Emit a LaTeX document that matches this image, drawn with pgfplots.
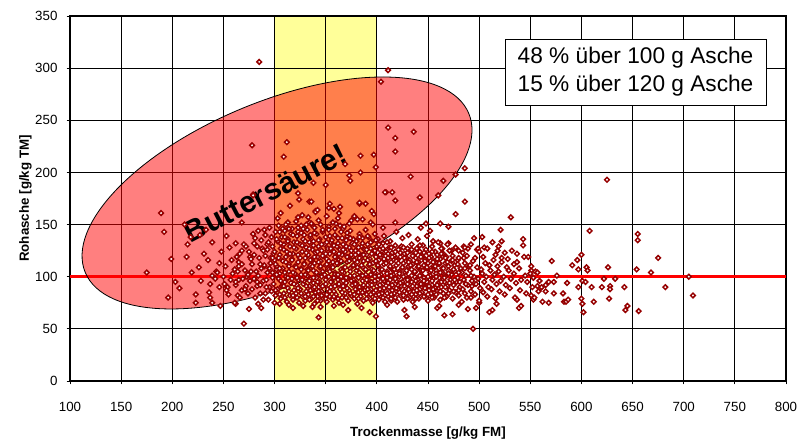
\documentclass[border=0pt]{standalone}
\usepackage{fontspec}
\setmainfont{Liberation Sans}
\usepackage{pgfplots}
\pgfplotsset{compat=1.18}
\definecolor{ptred}{RGB}{150,0,0}
\definecolor{ylw}{RGB}{255,255,153}
\begin{document}
\begin{tikzpicture}
\begin{axis}[
  name=ax, set layers,
  scale only axis, width=537pt, height=273.75pt,
  xmin=100, xmax=800, ymin=0, ymax=350,
  xtick={100,150,...,800}, ytick={0,50,...,350},
  grid=major, major grid style={black, line width=0.6pt},
  axis line style={black, line width=0.8pt},
  tick align=outside, tick pos=left, major tick length=2.5pt,
  tick style={black, line width=0.6pt},
  /pgf/number format/assume math mode=true,
  /pgf/number format/1000 sep={},
  xticklabel style={yshift=-9.5pt, font=\fontsize{10}{12}\selectfont},
  yticklabel style={xshift=-3.4pt, font=\fontsize{10}{12}\selectfont},
  xlabel={Trockenmasse [g/kg FM]}, ylabel={Rohasche [g/kg TM]},
  xlabel style={at={(axis description cs:0.5,-0.1534)}, anchor=base, font=\bfseries\fontsize{10}{12}\selectfont},
  ylabel style={at={(axis description cs:-0.0573,0.5)}, anchor=base, font=\bfseries\fontsize{10}{12}\selectfont},
]
\addplot[draw=none, fill=ylw, on layer=axis background] coordinates {(300,0) (400,0) (400,350) (300,350)} -- cycle;

\addplot[red, line width=2.6pt] coordinates {(100,100) (800,100)};

\addplot[only marks, mark=square*, mark size=1.25pt, mark options={draw=ptred, fill=white, line width=1.1pt, rotate=45}] coordinates {
(285,306) (411,298) (404,287) (278,226) (312,229) (309,215) (411,243) (418,233) (418,220) (384,216)
(397,217) (399,205) (384,200) (369,208) (373,197) (374,192) (350,188) (338,190) (279,179) (323,180)
(324,174) (334,172) (409,181) (415,181) (418,173) (354,170) (383,170) (389,170) (358,165) (364,167)
(340,163) (395,163) (397,160) (189,161) (436,239) (433,196) (465,192) (477,198) (486,204) (442,176)
(460,178) (486,172) (477,160) (531,157) (625,193) (608,144) (655,141) (655,135) (675,118) (668,104)
(654,107) (705,100) (682,90) (709,82) (656,67) (645,72) (643,68) (642,90) (628,91) (628,88)
(627,79) (626,109) (633,98) (620,90) (622,98) (612,76) (610,90) (602,66) (601,74) (600,79)
(600,121) (596,116) (591,111) (597,107) (597,90) (605,109) (606,106) (601,96) (604,95) (571,115)
(586,94) (582,84) (583,76) (585,76) (587,78) (576,101) (573,95) (568,95) (565,92) (573,84)
(568,75) (562,76) (551,106) (555,105) (550,103) (557,91) (560,89) (565,86) (561,90) (551,82)
(553,78) (554,80) (543,136) (543,130) (544,119) (537,122) (534,112) (528,117) (522,134) (519,129)
(522,114) (521,145) (503,138) (495,137) (498,126) (489,127) (485,129) (494,50) (539,70) (541,72)
(537,78) (510,66) (513,68) (517,74) (513,133) (518,125) (525,123)
(192,143) (199,117) (175,104) (215,131) (214,119) (207,89) (239,133) (231,122) (235,116) (243,105)
(244,104) (239,101) (242,98) (237,93) (236,85) (237,80) (239,75) (223,83) (223,75) (247,72)
(253,139) (268,152) (279,178) (254,90) (253,87) (270,55) (275,69) (262,74) (262,132) (258,116)
(263,119) (265,114) (266,122) (270,131) (272,129) (276,119) (275,124) (281,137) (284,144) (287,135)
(261,107) (264,105) (271,106) (259,103) (255,83) (264,82) (266,80) (261,75) (284,74) (287,70)
(278,112) (280,98) (282,105) (283,91) (285,118) (286,84) (288,127) (289,96) (290,110) (278,88)
(281,80) (284,101) (287,108) (276,96) (273,100) (280,121) (286,92) (289,78) (291,120) (293,131)
(277,105) (283,129) (269,98) (272,91) (274,84) (268,112) (279,141) (290,145) (257,97) (252,110)
(248,124) (246,113) (250,100) (256,128) (262,92) (265,97) (268,87) (251,93) (246,90) (228,96)
(226,109) (219,104) (203,95) (196,80) (227,140) (233,145) (212,150) (218,138)
(336,172) (353,166) (383,171) (408,181) (323,157) (340,162) (313,152) (334,152) (336,151) (343,154)
(362,156) (360,151) (364,149) (375,154) (373,151) (381,155) (386,155) (394,152) (406,147) (308,146)
(328,146) (338,148) (353,148) (367,146)
(318,70) (314,73) (305,74) (343,61) (372,68) (385,70) (393,66) (399,62) (328,72) (337,71)
(345,71) (358,72) (367,73) (466,63) (474,64) (480,73) (483,76) (489,69) (497,70) (500,75)
(427,68) (429,62) (437,71) (459,70) (461,72) (410,73) (414,77)
(418,152) (448,151) (462,151) (470,148) (452,144) (443,147) (499,127) (505,128) (486,128) (455,134)
(462,132) (470,132) (473,125) (480,125) (464,127)
(291,84) (292,97) (290,111) (293,126) (291,140)
(294,78) (295,90) (293,104) (296,118) (294,133) (295,147)
(297,86) (298,99) (296,113) (299,122) (297,138)
(300,75) (301,82) (299,93) (302,107) (300,116) (298,129) (301,143) (303,156)
(303,88) (304,98) (302,110) (305,121) (303,134) (304,149)
(306,79) (307,91) (305,103) (308,115) (306,127) (307,138) (306,161)
(309,84) (310,95) (308,108) (311,119) (309,131) (310,144)
(312,76) (313,89) (311,100) (314,112) (312,124) (313,136) (311,150)
(315,82) (316,94) (314,105) (317,117) (315,129) (316,141) (315,168)
(318,78) (319,87) (317,98) (320,110) (318,122) (319,133) (317,146)
(321,84) (322,92) (320,103) (323,114) (321,127) (322,139) (321,153)
(324,75) (325,88) (323,97) (326,108) (324,119) (325,131) (323,143)
(327,81) (328,93) (326,102) (329,113) (327,124) (328,136) (326,149) (327,159)
(330,77) (331,86) (329,96) (332,107) (330,118) (331,128) (329,140)
(333,83) (334,91) (332,101) (335,111) (333,121) (334,133) (332,145) (333,157)
(336,79) (337,88) (335,98) (338,106) (336,116) (337,126) (335,138)
(339,74) (340,85) (338,94) (341,103) (339,113) (340,123) (338,134) (339,147)
(342,81) (343,90) (341,99) (344,109) (342,119) (343,129) (341,141) (342,164)
(345,77) (346,86) (344,95) (347,105) (345,115) (346,125) (344,136) (345,150)
(348,83) (349,92) (347,101) (350,111) (348,120) (349,131) (347,143)
(351,76) (352,88) (350,97) (353,107) (351,117) (352,127) (350,138) (351,158)
(354,81) (355,90) (353,100) (356,110) (354,122) (355,133) (353,145)
(357,78) (358,86) (356,95) (359,104) (357,114) (358,124) (356,135) (357,152)
(360,83) (361,92) (359,102) (362,112) (360,119) (361,129) (359,140)
(363,75) (364,88) (362,97) (365,107) (363,116) (364,126) (362,137) (363,161)
(366,80) (367,91) (365,100) (368,109) (366,121) (367,131) (365,143)
(369,84) (370,94) (368,104) (371,114) (369,124) (370,135) (368,148)
(372,77) (373,87) (371,98) (374,108) (372,118) (373,128) (371,139)
(375,82) (376,92) (374,101) (377,111) (375,121) (376,132) (374,144)
(378,79) (379,88) (377,97) (380,106) (378,116) (379,125) (377,136) (378,158)
(381,74) (382,85) (380,94) (383,104) (381,114) (382,123) (380,134)
(384,81) (385,90) (383,100) (386,109) (384,119) (385,129) (383,141)
(387,77) (388,87) (386,96) (389,106) (387,115) (388,126) (386,137)
(390,83) (391,92) (389,102) (392,111) (390,121) (391,131) (389,145)
(393,79) (394,88) (392,97) (395,107) (393,117) (394,127) (392,138)
(396,75) (397,85) (395,95) (398,104) (396,113) (397,123) (395,134) (396,150)
(399,82) (400,91) (398,100) (401,110) (399,119) (400,129) (398,141)
(402,78) (403,88) (401,97) (404,106) (402,116) (403,126) (401,136)
(405,84) (406,93) (404,102) (407,112) (405,121) (406,132)
(408,76) (409,86) (407,96) (410,105) (408,115) (409,124) (407,139)
(411,81) (412,90) (410,99) (413,109) (411,118) (412,128)
(414,79) (415,87) (413,97) (416,106) (414,114) (415,123) (413,134)
(417,84) (418,93) (416,102) (419,111) (417,120) (418,130)
(420,76) (421,88) (419,96) (422,105) (420,116) (421,126) (419,143)
(423,82) (424,91) (422,100) (425,109) (423,119) (424,129)
(426,78) (427,86) (425,95) (428,104) (426,113) (427,122) (425,137)
(429,84) (430,93) (428,101) (431,110) (429,118) (430,127)
(432,80) (433,89) (431,98) (434,107) (432,116) (433,125) (431,140)
(435,76) (436,86) (434,95) (437,104) (435,112) (436,121) (434,131)
(438,83) (439,91) (437,100) (440,109) (438,118) (439,127)
(441,79) (442,88) (440,97) (443,106) (441,114) (442,124) (440,136)
(444,85) (445,93) (443,102) (446,111) (444,120) (445,130)
(447,81) (448,90) (446,99) (449,108) (447,117) (448,126)
(450,77) (451,87) (449,95) (452,104) (450,113) (451,122) (449,139)
(453,84) (454,92) (452,101) (455,110) (453,119) (454,129)
(456,80) (457,89) (455,98) (458,106) (456,115) (457,124)
(459,86) (460,94) (458,103) (461,112) (459,121) (460,133)
(462,78) (463,90) (461,99) (464,108) (462,117) (463,127)
(465,84) (466,95) (464,104) (467,113) (465,122)
(468,81) (469,91) (467,100) (470,110) (468,119) (469,131)
(471,87) (472,97) (470,106) (473,115) (471,125)
(474,79) (475,92) (473,102) (476,111) (474,120)
(477,85) (478,95) (476,105) (479,116) (477,128)
(480,82) (481,90) (479,99) (482,108) (480,118)
(484,88) (485,97) (483,104) (486,113) (484,123)
(488,80) (489,92) (487,101) (490,110) (488,120)
(492,86) (493,96) (491,106) (494,115) (492,131)
(496,83) (497,93) (495,100) (498,109) (496,118)
(500,77) (501,89) (499,98) (502,107) (500,124)
(504,85) (505,95) (503,103) (506,113) (504,119)
(508,81) (509,90) (507,100) (510,111) (508,127)
(512,88) (513,97) (511,106) (514,116)
(516,79) (517,93) (515,102) (518,110) (516,121)
(520,86) (521,96) (519,105) (522,118)
(525,83) (526,92) (524,100) (527,109)
(530,89) (531,98) (529,106) (532,125)
(535,80) (536,94) (534,103) (537,114)
(540,87) (541,97) (539,108)
(546,84) (547,95) (545,101) (548,119)
(552,90) (553,99) (551,110)
(558,86) (559,96) (557,104)
(262,95) (265,110) (268,125) (271,88) (274,102) (277,117) (280,132) (283,95) (286,112) (289,125)
(292,90) (295,108) (298,118) (298,104)
(301,87) (302,102) (301,112) (300,124) (302,136)
(305,83) (306,96) (305,108) (304,118) (306,132) (305,143)
(310,80) (309,91) (310,104) (311,114) (309,126) (310,138)
(314,86) (313,99) (314,110) (315,122) (313,134) (314,146)
(318,82) (319,93) (318,104) (317,116) (319,128) (318,140)
(322,80) (323,89) (322,99) (321,109) (323,121) (322,133) (323,147)
(326,84) (327,97) (326,107) (325,118) (327,130) (326,142)
(330,81) (331,91) (330,102) (329,112) (331,123) (330,134) (331,150)
(334,78) (335,87) (334,96) (333,106) (335,116) (334,127) (335,140)
(338,81) (339,90) (338,99) (337,110) (339,119) (338,130) (339,142)
(342,77) (343,86) (342,95) (341,104) (343,114) (342,124) (343,135)
(346,82) (347,91) (346,100) (345,110) (347,120) (346,131) (347,145)
(350,79) (351,83) (350,93) (349,102) (351,112) (350,122) (351,133)
(354,86) (355,95) (354,105) (353,115) (355,127) (354,139)
(358,81) (359,91) (358,99) (357,109) (359,119) (358,130) (359,146)
(362,79) (363,93) (362,102) (361,113) (363,122) (362,132)
(366,85) (367,96) (366,105) (365,115) (367,126) (366,137)
(370,80) (371,89) (370,99) (369,109) (371,119) (370,129) (371,142)
(374,84) (375,96) (374,105) (373,115) (375,125) (374,137)
(378,83) (379,93) (378,101) (377,111) (379,121) (378,131)
(382,79) (383,90) (382,99) (381,109) (383,118) (382,128) (383,138)
(386,85) (387,92) (386,101) (385,111) (387,121) (386,132)
(390,79) (391,88) (390,97) (389,107) (391,116) (390,126) (391,139)
(394,83) (395,92) (394,102) (393,112) (395,122) (394,133)
(398,79) (399,87) (398,96) (397,106) (399,115) (398,125) (399,135)
(402,83) (403,92) (402,101) (401,111) (403,121) (402,131)
(406,80) (407,89) (406,98) (405,107) (407,117) (406,127)
(410,84) (411,94) (410,103) (409,113) (411,122) (410,133)
(414,83) (415,92) (414,101) (413,110) (415,119) (414,128)
(418,80) (419,89) (418,98) (417,107) (419,115) (418,124)
(422,85) (423,94) (422,103) (421,113) (423,123)
(426,82) (427,91) (426,100) (425,109) (427,118) (426,128)
(430,79) (431,88) (430,97) (429,106) (431,114) (430,123)
(434,83) (435,91) (434,101) (433,111) (435,120) (434,126)
(438,79) (439,87) (438,96) (437,105) (439,114) (438,123)
(442,84) (443,93) (442,101) (441,110) (443,119) (442,130)
(446,81) (447,89) (446,96) (445,106) (447,115) (446,123)
(450,83) (451,91) (450,100) (449,109) (451,118)
(454,80) (455,88) (454,96) (453,106) (455,114) (454,124)
(458,83) (459,92) (458,100) (457,110) (459,117)
(462,86) (463,95) (462,104) (461,113) (463,122)
(466,80) (467,90) (466,99) (465,108) (467,118)
(470,84) (471,94) (470,103) (469,114)
(475,86) (476,97) (475,107) (474,116)
(480,87) (481,95) (480,104) (479,112)
(486,84) (487,93) (486,108) (485,118)
(492,80) (493,91) (492,101) (491,111)
};

\filldraw[fill=red, fill opacity=0.5, draw=black, line width=0.6pt, shift={(axis cs:302.4,180.3)}, rotate=22.5] (0pt,0pt) ellipse [x radius=155.7pt, y radius=68.6pt];

\node[rotate=27.5, font=\bfseries\fontsize{22.5}{27}\selectfont] at (axis cs:291,180) {Buttersäure!};

\node[draw=black, fill=white, line width=0.6pt, minimum width=195.75pt, minimum height=49.5pt, align=center, inner sep=0pt, font=\fontsize{17}{21}\selectfont] at (axis cs:652.9,296.3) {48 \% über 100 g Asche\\15 \% über 120 g Asche};
\end{axis}
\pgfresetboundingbox
\path ([xshift=-52.5pt,yshift=-46.5pt]ax.south west) rectangle ([xshift=9pt,yshift=12pt]ax.north east);
\end{tikzpicture}
\end{document}
